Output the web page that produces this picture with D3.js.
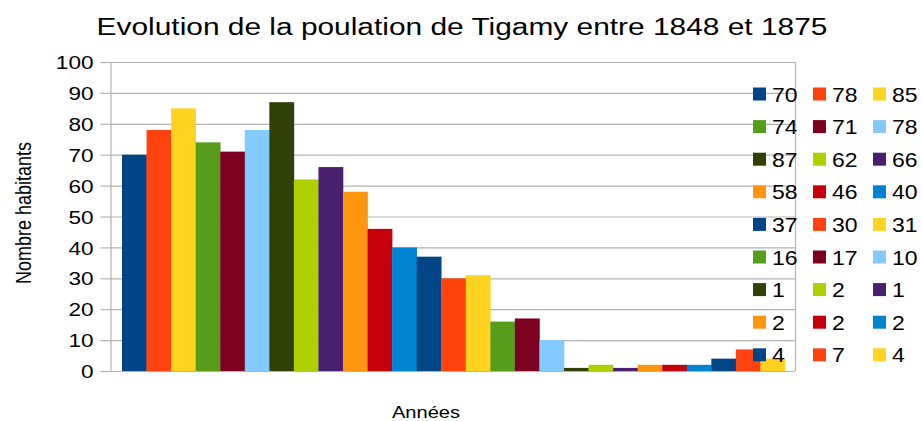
<!DOCTYPE html>
<html>
<head>
<meta charset="utf-8">
<script src="https://cdn.jsdelivr.net/npm/d3@7"></script>
<style>
  body { margin: 0; background: #fff; }
  text { font-family: "Liberation Sans", Arial, sans-serif; fill: #000; }
</style>
</head>
<body>
<div id="chart"></div>
<script>
// chart data
const TITLE = "Evolution de la poulation de Tigamy entre 1848 et 1875";
const Y_LABEL = "Nombre habitants";
const X_LABEL = "Années";
const POPULATION = [70, 78, 85, 74, 71, 78, 87, 62, 66, 58, 46, 40, 37, 30, 31,
                    16, 17, 10, 1, 2, 1, 2, 2, 2, 4, 7, 4];
const Y_TICKS = [0, 10, 20, 30, 40, 50, 60, 70, 80, 90, 100];

// libreoffice default colours
const PALETTE = ["#004586", "#ff420e", "#ffd320", "#579d1c", "#7e0021", "#83caff",
                 "#314004", "#aecf00", "#4b1f6f", "#ff950e", "#c5000b", "#0084d1"];

const FRAME_WIDTH = 922;
const FRAME_HEIGHT = 421;
const PLOT = {left: 110, right: 795, top: 62, bottom: 371};
// the reference text looks stretched sideways
const SX = 1.22;
const GRID = "#b3b3b3";

const SVG = d3.select("#chart")
              .append("svg")
                .attr("width", FRAME_WIDTH)
                .attr("height", FRAME_HEIGHT);

// scales
const X_SCALE = d3.scaleBand()
                  .domain(d3.range(POPULATION.length))
                  .range([PLOT.left + 12, PLOT.right - 10]);

const Y_SCALE = d3.scaleLinear()
                  .domain([0, 100])
                  .range([PLOT.bottom, PLOT.top]);

// grid lines
SVG.append("g")
   .selectAll("line")
   .data(Y_TICKS)
   .enter().append("line")
     .attr("x1", PLOT.left)
     .attr("x2", PLOT.right)
     .attr("y1", d => Y_SCALE(d) + 0.5)
     .attr("y2", d => Y_SCALE(d) + 0.5)
     .attr("stroke", GRID)
     .attr("stroke-width", 1.2);

// right border of the plot
SVG.append("line")
   .attr("x1", PLOT.right + 0.5).attr("x2", PLOT.right + 0.5)
   .attr("y1", PLOT.top).attr("y2", PLOT.bottom)
   .attr("stroke", GRID)
   .attr("stroke-width", 1.2);

// bars
SVG.append("g")
   .selectAll(".bar")
   .data(POPULATION)
   .enter().append("rect")
     .attr("class", "bar")
     .attr("x", (d, i) => X_SCALE(i))
     .attr("y", d => Y_SCALE(d))
     .attr("width", X_SCALE.bandwidth() + 0.3)
     .attr("height", d => PLOT.bottom - Y_SCALE(d))
     .attr("fill", (d, i) => PALETTE[i % PALETTE.length]);

// y axis
const yAxis = SVG.append("g")
                 .attr("transform", "translate(" + (PLOT.left + 0.5) + ",0)")
                 .call(d3.axisLeft(Y_SCALE).tickValues(Y_TICKS).tickSize(10).tickSizeOuter(0));
yAxis.select(".domain").attr("stroke", GRID).attr("stroke-width", 1.2);
yAxis.selectAll(".tick line").attr("stroke", GRID).attr("stroke-width", 1.2);
yAxis.selectAll(".tick text")
     .attr("x", -17 / SX)
     .attr("dy", "0.36em")
     .attr("transform", "scale(" + SX + ",1)")
     .style("font-size", "18.5px")
     .style("font-family", "'Liberation Sans', Arial, sans-serif")
     .attr("fill", "#000");

// title
SVG.append("text")
   .attr("transform", "translate(462,35) scale(" + SX + ",1)")
   .attr("text-anchor", "middle")
   .style("font-size", "24.5px")
   .text(TITLE);

// axis titles
SVG.append("text")
   .attr("transform", "translate(31,213) scale(" + SX + ",1) rotate(-90)")
   .attr("text-anchor", "middle")
   .style("font-size", "18px")
   .text(Y_LABEL);

SVG.append("text")
   .attr("transform", "translate(426,418) scale(" + SX + ",1)")
   .attr("text-anchor", "middle")
   .style("font-size", "16.5px")
   .text(X_LABEL);

// legend, 3 columns filled row by row
const LEG_X = 753, LEG_Y = 94, COL_W = 60, ROW_H = 32.6, BOX = 13;

const legend = SVG.append("g")
                  .selectAll("g")
                  .data(POPULATION)
                  .enter().append("g")
                    .attr("transform", (d, i) => "translate(" + (LEG_X + (i % 3) * COL_W) + "," +
                                                 (LEG_Y + Math.floor(i / 3) * ROW_H) + ")");

legend.append("rect")
      .attr("x", 0)
      .attr("y", -BOX / 2)
      .attr("width", BOX)
      .attr("height", BOX)
      .attr("fill", (d, i) => PALETTE[i % PALETTE.length]);

legend.append("text")
      .attr("transform", "translate(19,7.5) scale(1.15,1)")
      .style("font-size", "20px")
      .text(d => d);
</script>
</body>
</html>
